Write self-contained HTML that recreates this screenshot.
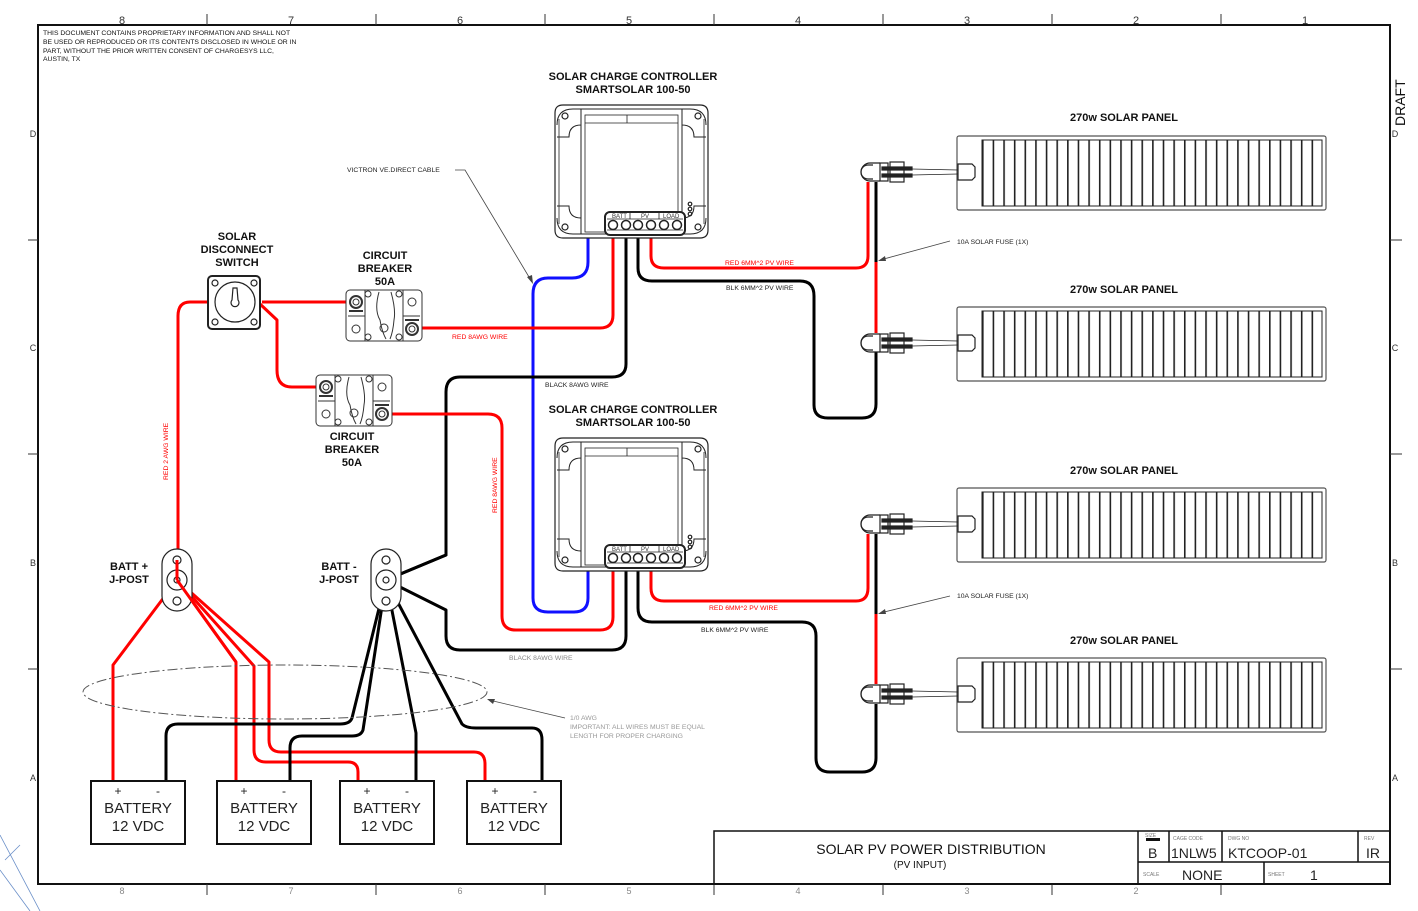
<!DOCTYPE html>
<html><head><meta charset="utf-8"><style>
html,body{margin:0;padding:0;background:#fff}
svg{display:block;font-family:"Liberation Sans",Arial,sans-serif}
</style></head><body>
<svg width="1418" height="911" viewBox="0 0 1418 911" xmlns="http://www.w3.org/2000/svg">
<defs>
<pattern id="cells" x="982" y="0" width="10.63" height="10" patternUnits="userSpaceOnUse">
<rect x="0" y="0" width="1.6" height="10" fill="#222"/>
</pattern>
<g id="panel">
<rect x="0" y="0" width="369" height="74" rx="2" fill="#fff" stroke="#555" stroke-width="1.2"/>
<rect x="25" y="4" width="340" height="66" fill="#fff" stroke="#222" stroke-width="1"/>
</g>
<g id="conn" fill="none" stroke="#222" stroke-width="1.2">
<path d="M12 -9 H2 A9 9 0 0 0 2 9 H12"/>
<path d="M5 -7 H0 A7 7 0 0 0 0 7 H5"/>
<rect x="12" y="-9" width="8" height="18"/>
<rect x="22" y="-10" width="14" height="20"/>
<rect x="14" y="-5" width="30" height="3" fill="#222"/>
<rect x="14" y="2" width="30" height="3" fill="#222"/>
<path d="M44 -3 L90 -2 M44 3 L90 2" stroke-width="0.8"/>
<path d="M90 -8 H104 L107 -5 V5 L104 8 H90 Z"/>
</g>
<g id="ctrl" fill="none" stroke="#222" stroke-width="1.2">
<path d="M8 0 H145 Q153 0 153 8 V125 Q153 133 145 133 H8 Q0 133 0 125 V8 Q0 0 8 0 Z"/>
<path d="M4 14 V119 M149 14 V119" stroke-width="0.8"/>
<rect x="26" y="4" width="101" height="125" stroke-width="1"/>
<rect x="30" y="10" width="93" height="117" stroke-width="0.8"/>
<path d="M30 18 H123 M72 10 V18" stroke-width="0.8"/>
<path d="M2 20 Q2 4 18 4 H26 V20 Q14 20 14 32 H2" stroke-width="1"/>
<path d="M151 20 Q151 4 135 4 H127 V20 Q139 20 139 32 H151" stroke-width="1"/>
<path d="M2 113 Q2 129 18 129 H26 V113 Q14 113 14 101 H2" stroke-width="1"/>
<path d="M151 113 Q151 129 135 129 H127 V113 Q139 113 139 101 H151" stroke-width="1"/>
<circle cx="10" cy="11" r="3"/><circle cx="143" cy="11" r="3"/>
<circle cx="10" cy="122" r="3"/><circle cx="143" cy="122" r="3"/>
<circle cx="135" cy="99" r="1.8"/><circle cx="135" cy="104" r="1.8"/><circle cx="135" cy="109" r="1.8"/>
<rect x="50" y="107" width="80" height="23" rx="5" fill="#fff" stroke-width="2"/>
<path d="M52 114 H128 M75 107 V114 M104 107 V114 M52 125 H128" stroke-width="0.8"/>
<circle cx="58" cy="120" r="4.5" stroke-width="1.5"/><circle cx="71" cy="120" r="4.5" stroke-width="1.5"/>
<circle cx="83" cy="120" r="4.5" stroke-width="1.5"/><circle cx="96" cy="120" r="4.5" stroke-width="1.5"/>
<circle cx="109" cy="120" r="4.5" stroke-width="1.5"/><circle cx="122" cy="120" r="4.5" stroke-width="1.5"/>
<text x="57" y="113" font-size="6" fill="#333" stroke="none">BATT</text>
<text x="86" y="113" font-size="6" fill="#333" stroke="none">PV</text>
<text x="108" y="113" font-size="6" fill="#333" stroke="none">LOAD</text>
</g>
<g id="brk" fill="none" stroke="#333" stroke-width="1">
<rect x="0" y="0" width="76" height="51" rx="4" fill="#fff"/>
<path d="M19 0 V51 M57 0 V51 M2 26 H19 M57 26 H74"/>
<path d="M33 2 Q28 20 34 30 Q36 42 40 49 M45 2 Q50 20 48 30 Q47 42 44 49"/>
<circle cx="10" cy="12" r="6" stroke-width="2"/><circle cx="10" cy="12" r="3"/>
<circle cx="66" cy="39" r="6" stroke-width="2"/><circle cx="66" cy="39" r="3"/>
<circle cx="66" cy="12" r="4"/><circle cx="10" cy="39" r="4"/>
<circle cx="38" cy="38" r="4"/>
<circle cx="22" cy="4" r="3"/><circle cx="53" cy="4" r="3"/><circle cx="22" cy="47" r="3"/><circle cx="53" cy="47" r="3"/>
<path d="M3 21 H17 M59 30 H73" stroke-width="2"/>
</g>
</defs>

<!-- frame -->
<rect x="38" y="25" width="1352" height="859" fill="none" stroke="#111" stroke-width="2"/>
<g stroke="#333" stroke-width="1">
<path d="M207 14 V25 M376 14 V25 M545 14 V25 M714 14 V25 M883 14 V25 M1052 14 V25 M1221 14 V25"/>
<path d="M207 884 V895 M376 884 V895 M545 884 V895 M714 884 V895 M883 884 V895 M1052 884 V895 M1221 884 V895"/>
<path d="M28 240 H38 M28 454 H38 M28 669 H38 M1390 240 H1402 M1390 454 H1402 M1390 669 H1402"/>
</g>
<g font-size="11" fill="#333" text-anchor="middle">
<text x="122" y="24">8</text><text x="291" y="24">7</text><text x="460" y="24">6</text><text x="629" y="24">5</text>
<text x="798" y="24">4</text><text x="967" y="24">3</text><text x="1136" y="24">2</text><text x="1305" y="24">1</text>
<text x="122" y="894" font-size="9" fill="#888">8</text><text x="291" y="894" font-size="9" fill="#888">7</text><text x="460" y="894" font-size="9" fill="#888">6</text><text x="629" y="894" font-size="9" fill="#888">5</text>
<text x="798" y="894" font-size="9" fill="#888">4</text><text x="967" y="894" font-size="9" fill="#888">3</text><text x="1136" y="894" font-size="9" fill="#888">2</text>
<text x="33" y="137" font-size="9">D</text><text x="33" y="351" font-size="9">C</text><text x="33" y="566" font-size="9">B</text><text x="33" y="781" font-size="9">A</text>
<text x="1395" y="137" font-size="9">D</text><text x="1395" y="351" font-size="9">C</text><text x="1395" y="566" font-size="9">B</text><text x="1395" y="781" font-size="9">A</text>
</g>
<text x="1405" y="126" font-size="14" fill="#111" transform="rotate(-90 1405 126)">DRAFT</text>
<g font-size="6.8" fill="#111">
<text x="43" y="35">THIS DOCUMENT CONTAINS PROPRIETARY INFORMATION AND SHALL NOT</text>
<text x="43" y="44">BE USED OR REPRODUCED OR ITS CONTENTS DISCLOSED IN WHOLE OR IN</text>
<text x="43" y="53">PART, WITHOUT THE PRIOR WRITTEN CONSENT OF CHARGESYS LLC,</text>
<text x="43" y="61">AUSTIN, TX</text>
</g>
<path d="M0 835 L40 911 M5 860 L20 845 M0 870 L30 911" stroke="#6a8fc8" stroke-width="0.8" fill="none"/>

<!-- title block -->
<g fill="none" stroke="#111" stroke-width="1.5">
<rect x="714" y="831" width="676" height="53"/>
<path d="M1138 831 V884 M1138 862 H1390 M1169 831 V862 M1222 831 V862 M1358 831 V862 M1264 862 V884"/>
</g>
<rect x="1146" y="838" width="14" height="3" fill="#111"/>
<text x="931" y="854" font-size="14" text-anchor="middle" fill="#111">SOLAR PV POWER DISTRIBUTION</text>
<text x="920" y="868" font-size="10" text-anchor="middle" fill="#111">(PV INPUT)</text>
<g font-size="5" fill="#777"><text x="1145" y="837">SIZE</text><text x="1173" y="840">CAGE CODE</text><text x="1228" y="840">DWG NO</text><text x="1364" y="840">REV</text><text x="1143" y="876">SCALE</text><text x="1268" y="876">SHEET</text></g>
<g font-size="14" fill="#222"><text x="1148" y="858">B</text><text x="1171" y="858">1NLW5</text><text x="1228" y="858">KTCOOP-01</text><text x="1366" y="858">IR</text><text x="1182" y="880">NONE</text><text x="1310" y="880">1</text></g>

<!-- panels -->
<g>
<use href="#panel" x="957" y="136"/><rect x="982" y="140" width="340" height="66" fill="url(#cells)"/>
<use href="#panel" x="957" y="307"/><rect x="982" y="311" width="340" height="66" fill="url(#cells)"/>
<use href="#panel" x="957" y="488"/><rect x="982" y="492" width="340" height="66" fill="url(#cells)"/>
<use href="#panel" x="957" y="658"/><rect x="982" y="662" width="340" height="66" fill="url(#cells)"/>
<path d="M1322 140 V206 M1322 311 V377 M1322 492 V558 M1322 662 V728" stroke="#222"/>
</g>
<g font-size="11" font-weight="bold" fill="#111" text-anchor="middle">
<text x="1124" y="121">270w SOLAR PANEL</text><text x="1124" y="293">270w SOLAR PANEL</text>
<text x="1124" y="474">270w SOLAR PANEL</text><text x="1124" y="644">270w SOLAR PANEL</text>
<text x="633" y="80">SOLAR CHARGE CONTROLLER</text><text x="633" y="93">SMARTSOLAR 100-50</text>
<text x="633" y="413">SOLAR CHARGE CONTROLLER</text><text x="633" y="426">SMARTSOLAR 100-50</text>
<text x="237" y="240">SOLAR</text><text x="237" y="253">DISCONNECT</text><text x="237" y="266">SWITCH</text>
<text x="385" y="259">CIRCUIT</text><text x="385" y="272">BREAKER</text><text x="385" y="285">50A</text>
<text x="352" y="440">CIRCUIT</text><text x="352" y="453">BREAKER</text><text x="352" y="466">50A</text>
<text x="129" y="570">BATT +</text><text x="129" y="583">J-POST</text>
<text x="339" y="570">BATT -</text><text x="339" y="583">J-POST</text>
</g>

<!-- wires -->
<g fill="none" stroke-width="3" stroke-linejoin="round">
<!-- blue ve.direct -->
<path d="M588 238 V262 Q588 278 572 278 H548 Q533 278 533 294 V598 Q533 612 548 612 H574 Q588 612 588 598 V571" stroke="#1010ff"/>
<!-- ctrl1 -->
<path d="M613 238 V315 Q613 328 600 328 H414" stroke="#f00"/>
<path d="M626 238 V364 Q626 377 612 377 H460 Q446 377 446 392 V555 L386 580" stroke="#000"/>
<path d="M638 238 V268 Q638 281 652 281 H800 Q814 281 814 296 V405 Q814 418 828 418 H862 Q876 418 876 404 V352" stroke="#000"/>
<path d="M651 238 V256 Q651 268 664 268 H856 Q868 268 868 256 V182" stroke="#f00"/>
<path d="M876 182 V262" stroke="#000"/><path d="M876 262 V333" stroke="#f00"/>
<!-- ctrl2 -->
<path d="M613 571 V617 Q613 630 600 630 H516 Q502 630 502 616 V428 Q502 414 488 414 H386" stroke="#f00"/>
<path d="M626 571 V636 Q626 650 612 650 H460 Q446 650 446 636 V610 L386 580" stroke="#000"/>
<path d="M638 571 V608 Q638 622 652 622 H802 Q816 622 816 636 V758 Q816 772 830 772 H862 Q876 772 876 758 V704" stroke="#000"/>
<path d="M651 571 V588 Q651 601 664 601 H856 Q868 601 868 588 V534" stroke="#f00"/>
<path d="M876 534 V614" stroke="#000"/><path d="M876 614 V684" stroke="#f00"/>
<!-- switch/breakers -->
<path d="M262 302 H350" stroke="#f00"/>
<path d="M260 304 L277 320 V370 Q277 387 292 387 H320" stroke="#f00"/>
<path d="M208 302 H190 Q178 302 178 316 V580" stroke="#f00"/>
<!-- batt + -->
<path d="M177 580 L113 665 V781" stroke="#f00"/>
<path d="M177 580 L236 662 V781" stroke="#f00"/>
<path d="M177 580 L254 666 V750 Q254 762 266 762 H348 Q358 762 358 772 V781" stroke="#f00"/>
<path d="M177 580 L269 662 V740 Q269 752 281 752 H474 Q485 752 485 764 V781" stroke="#f00"/>
<!-- batt - -->
<path d="M386 580 L352 718 Q350 724 340 724 H178 Q166 724 166 736 V781" stroke="#000"/>
<path d="M386 580 L363 730 Q361 736 352 736 H302 Q290 736 290 748 V781" stroke="#000"/>
<path d="M386 580 L416 733 V781" stroke="#000"/>
<path d="M386 580 L462 724 Q466 728 476 728 H532 Q542 728 542 740 V781" stroke="#000"/>
<path d="M386 580 L446 555 L446 550" stroke="#000"/>
</g>

<!-- components -->
<use href="#ctrl" x="555" y="105"/>
<use href="#ctrl" x="555" y="438"/>
<use href="#brk" x="346" y="290"/>
<use href="#brk" x="316" y="375"/>
<use href="#conn" x="868" y="172"/>
<use href="#conn" x="868" y="343"/>
<use href="#conn" x="868" y="524"/>
<use href="#conn" x="868" y="694"/>
<g fill="none" stroke="#222" stroke-width="1.2">
<rect x="208" y="276" width="52" height="53" rx="4" fill="#fff" stroke-width="2"/>
<circle cx="235" cy="302" r="20"/>
<circle cx="215" cy="283" r="3"/><circle cx="254" cy="283" r="3"/><circle cx="215" cy="322" r="3"/><circle cx="254" cy="322" r="3"/>
<path d="M233 288 L232 300 A4 4 0 1 0 238 300 L237 288 Z"/>
<rect x="162" y="549" width="30" height="62" rx="15" fill="#fff"/>
<circle cx="177" cy="580" r="10"/><circle cx="177" cy="580" r="3"/><circle cx="177" cy="560" r="4"/><circle cx="177" cy="601" r="4"/>
<rect x="371" y="549" width="30" height="62" rx="15" fill="#fff"/>
<circle cx="386" cy="580" r="10"/><circle cx="386" cy="580" r="3"/><circle cx="386" cy="560" r="4"/><circle cx="386" cy="601" r="4"/>
</g>
<path d="M177 580 L177 560 M177 580 L236 662" stroke="#f00" stroke-width="3"/>

<!-- batteries -->
<g fill="#fff" stroke="#111" stroke-width="2">
<rect x="91" y="781" width="94" height="63"/><rect x="217" y="781" width="94" height="63"/>
<rect x="340" y="781" width="94" height="63"/><rect x="467" y="781" width="94" height="63"/>
</g>
<g font-size="15" fill="#222" text-anchor="middle">
<text x="138" y="813">BATTERY</text><text x="138" y="831">12 VDC</text>
<text x="264" y="813">BATTERY</text><text x="264" y="831">12 VDC</text>
<text x="387" y="813">BATTERY</text><text x="387" y="831">12 VDC</text>
<text x="514" y="813">BATTERY</text><text x="514" y="831">12 VDC</text>
</g>
<g font-size="12" fill="#222" text-anchor="middle">
<text x="118" y="795">+</text><text x="158" y="795">-</text><text x="244" y="795">+</text><text x="284" y="795">-</text>
<text x="367" y="795">+</text><text x="407" y="795">-</text><text x="495" y="795">+</text><text x="535" y="795">-</text>
</g>

<!-- ellipse + annotations -->
<ellipse cx="285" cy="692" rx="202" ry="27" fill="none" stroke="#555" stroke-width="1" stroke-dasharray="10 3 2 3"/>
<g fill="none" stroke="#444" stroke-width="0.8">
<path d="M565 718 L489 700"/><path d="M455 170 H465 L532 282"/>
<path d="M950 241 L880 260"/><path d="M950 596 L880 613"/>
</g>
<g fill="#444"><path d="M487 699 L495 699 L493 704 Z"/><path d="M533 284 L527 277 L532 275 Z"/><path d="M878 261 L885 256 L886 261 Z"/><path d="M878 614 L885 609 L886 614 Z"/></g>
<g font-size="6.8" fill="#222">
<text x="347" y="172">VICTRON VE.DIRECT CABLE</text>
<text x="957" y="244">10A SOLAR FUSE (1X)</text>
<text x="957" y="598">10A SOLAR FUSE (1X)</text>
<text x="545" y="387">BLACK 8AWG WIRE</text>
<text x="726" y="290">BLK 6MM^2 PV WIRE</text>
<text x="701" y="632">BLK 6MM^2 PV WIRE</text>
<text x="509" y="660" fill="#888">BLACK 8AWG WIRE</text>
<text x="570" y="720" fill="#999">1/0 AWG</text>
<text x="570" y="729" fill="#999">IMPORTANT: ALL WIRES MUST BE EQUAL</text>
<text x="570" y="738" fill="#999">LENGTH FOR PROPER CHARGING</text>
</g>
<g font-size="6.8" fill="#f00">
<text x="725" y="265">RED 6MM^2 PV WIRE</text>
<text x="709" y="610">RED 6MM^2 PV WIRE</text>
<text x="452" y="339">RED 8AWG WIRE</text>
<text x="168" y="480" transform="rotate(-90 168 480)">RED 2 AWG WIRE</text>
<text x="497" y="513" transform="rotate(-90 497 513)">RED 8AWG WIRE</text>
</g>
</svg>
</body></html>
